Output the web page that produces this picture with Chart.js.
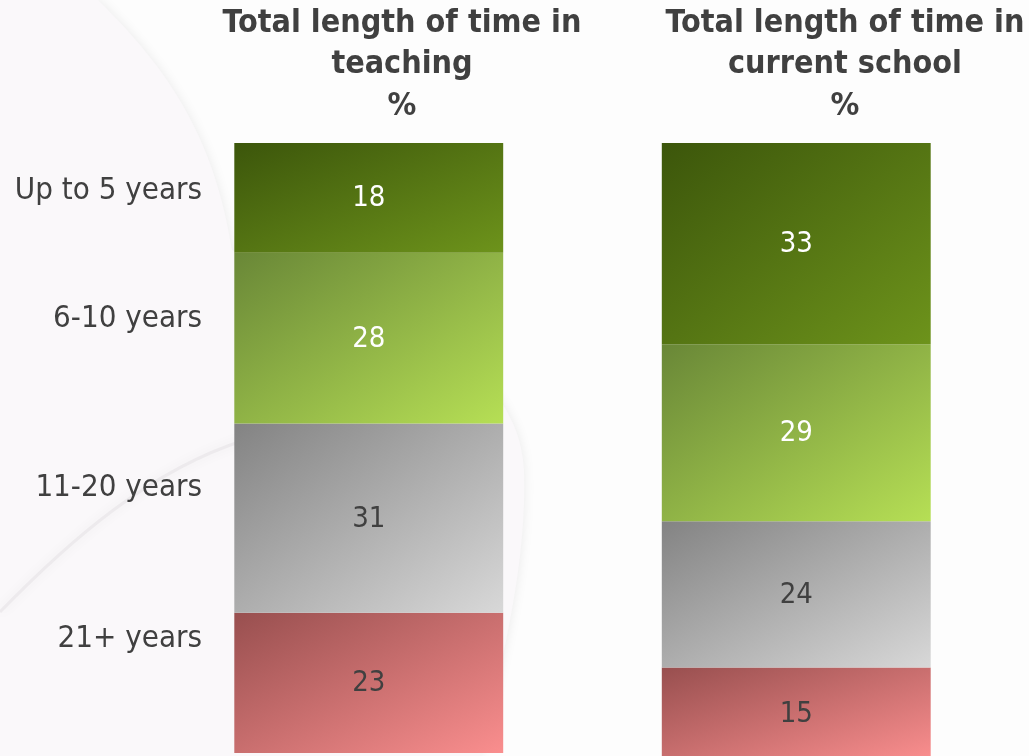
<!DOCTYPE html>
<html>
<head>
<meta charset="utf-8">
<script src="https://cdn.jsdelivr.net/npm/chart.js@4.4.1/dist/chart.umd.min.js"></script>
<style>
  html, body { margin: 0; padding: 0; background: #fdfdfd; }
  #wrap { position: relative; width: 1029px; height: 756px; }
</style>
</head>
<body>
<div id="wrap"><canvas id="c" width="1029" height="756"></canvas></div>
<script>
// Tenure bands, top to bottom of each stacked column
const bands = ['Up to 5 years', '6-10 years', '11-20 years', '21+ years'];
// The two columns
const columns = ['Total length of time in teaching', 'Total length of time in current school'];
// Percentages per band: [teaching, current school]
const upTo5 = [18, 33];
const sixTo10 = [28, 29];
const elevenTo20 = [31, 24];
const over21 = [23, 15];
// Column headings, line by line
const headingTeaching = ['Total length of time in', 'teaching', '%'];
const headingSchool = ['Total length of time in', 'current school', '%'];
// Where each band name sits along the value axis
const bandLabelAt = [7.7, 28.7, 56.4, 81.1];

const seriesValues = [upTo5, sixTo10, elevenTo20, over21];

// Diagonal gradient stops (top-left -> bottom-right) for each band
const gradStops = [
  ['#3c560b', '#6d931b'],
  ['#698737', '#b6df55'],
  ['#838383', '#d8d8d8'],
  ['#984f4f', '#fa8e8e']
];
const labelColours = ['#ffffff', '#ffffff', '#404040', '#404040'];

const FONT = "'DejaVu Sans Condensed', 'DejaVu Sans', sans-serif";

// Gradient whose colour follows x/w + y/h, so it runs corner to corner
// of each segment whatever its proportions.
function segmentGradient(ctx, bandIdx) {
  const chart = ctx.chart;
  const xs = chart.scales.x, ys = chart.scales.y;
  if (!chart.chartArea || !xs || !ys || ctx.dataIndex === undefined) return gradStops[bandIdx][1];
  const i = ctx.dataIndex;
  let start = 0;
  for (let b = 0; b < bandIdx; b++) start += seriesValues[b][i];
  const end = start + seriesValues[bandIdx][i];
  const cx = xs.getPixelForValue(i);
  const w = (xs.width / columns.length) * chart.options.datasets.bar.categoryPercentage;
  const y0 = ys.getPixelForValue(start), y1 = ys.getPixelForValue(end);
  const h = Math.abs(y1 - y0);
  if (!isFinite(y0) || !isFinite(y1) || !isFinite(cx) || h <= 0) return gradStops[bandIdx][1];
  const k = 2 / (1 / (w * w) + 1 / (h * h));
  const x0 = cx - w / 2;
  const g = chart.ctx.createLinearGradient(x0, y0, x0 + k / w, y0 + k / h);
  g.addColorStop(0, gradStops[bandIdx][0]);
  g.addColorStop(1, gradStops[bandIdx][1]);
  return g;
}

// Faint watermark swirl behind the chart
const backdrop = {
  id: 'backdrop',
  beforeDraw(chart) {
    const c = chart.ctx;
    c.save();
    c.fillStyle = '#fdfdfd';
    c.fillRect(0, 0, chart.width, chart.height);
    c.shadowColor = 'rgba(0,0,0,0.08)';
    c.shadowBlur = 12;
    c.fillStyle = '#faf8fa';
    c.beginPath();
    c.moveTo(0, 0);
    c.lineTo(98, 0);
    c.bezierCurveTo(170, 70, 215, 140, 232, 250);
    c.bezierCurveTo(380, 300, 520, 360, 524, 470);
    c.bezierCurveTo(527, 560, 505, 650, 480, 756);
    c.lineTo(0, 756);
    c.closePath();
    c.fill();
    // inner sweep across the lower left
    c.strokeStyle = 'rgba(235,233,235,0.9)';
    c.lineWidth = 3;
    c.beginPath();
    c.moveTo(0, 612);
    c.bezierCurveTo(70, 540, 150, 470, 245, 440);
    c.stroke();
    c.restore();
  }
};

// Headings, band names and in-segment values
const annotate = {
  id: 'annotate',
  afterDatasetsDraw(chart) {
    const c = chart.ctx;
    const ys = chart.scales.y;
    c.save();
    // values inside each segment
    c.font = '29px ' + FONT;
    c.textAlign = 'center';
    c.textBaseline = 'middle';
    chart.data.datasets.forEach((ds, d) => {
      const meta = chart.getDatasetMeta(d);
      meta.data.forEach((bar, i) => {
        const p = bar.getProps(['x', 'y', 'base'], true);
        c.fillStyle = labelColours[d];
        c.fillText(String(ds.data[i]), p.x, (p.y + p.base) / 2 + 1);
      });
    });
    // band names on the left
    c.font = '31px ' + FONT;
    c.fillStyle = '#404040';
    c.textAlign = 'right';
    bands.forEach((name, k) => {
      c.fillText(name, 202, ys.getPixelForValue(bandLabelAt[k]) + 1);
    });
    // column headings
    c.font = 'bold 32px ' + FONT;
    c.textAlign = 'center';
    const heads = [[headingTeaching, 402], [headingSchool, 845]];
    heads.forEach(([lines, x]) => {
      lines.forEach((t, j) => c.fillText(t, x, 23.5 + j * 41.5));
    });
    c.restore();
  }
};

new Chart(document.getElementById('c'), {
  type: 'bar',
  data: {
    labels: columns,
    datasets: bands.map((b, k) => ({
      label: b,
      data: seriesValues[k],
      backgroundColor: (ctx) => segmentGradient(ctx, k),
      borderWidth: 0
    }))
  },
  options: {
    responsive: false,
    animation: false,
    events: [],
    datasets: { bar: { categoryPercentage: 0.629, barPercentage: 1 } },
    layout: { padding: { left: 155, right: 19, top: 143, bottom: 0 } },
    plugins: { legend: { display: false }, tooltip: { enabled: false }, title: { display: false } },
    scales: {
      x: { stacked: true, display: false },
      y: { stacked: true, display: false, reverse: true, min: 0, max: 100.5 }
    }
  },
  plugins: [backdrop, annotate]
});
</script>
</body>
</html>
